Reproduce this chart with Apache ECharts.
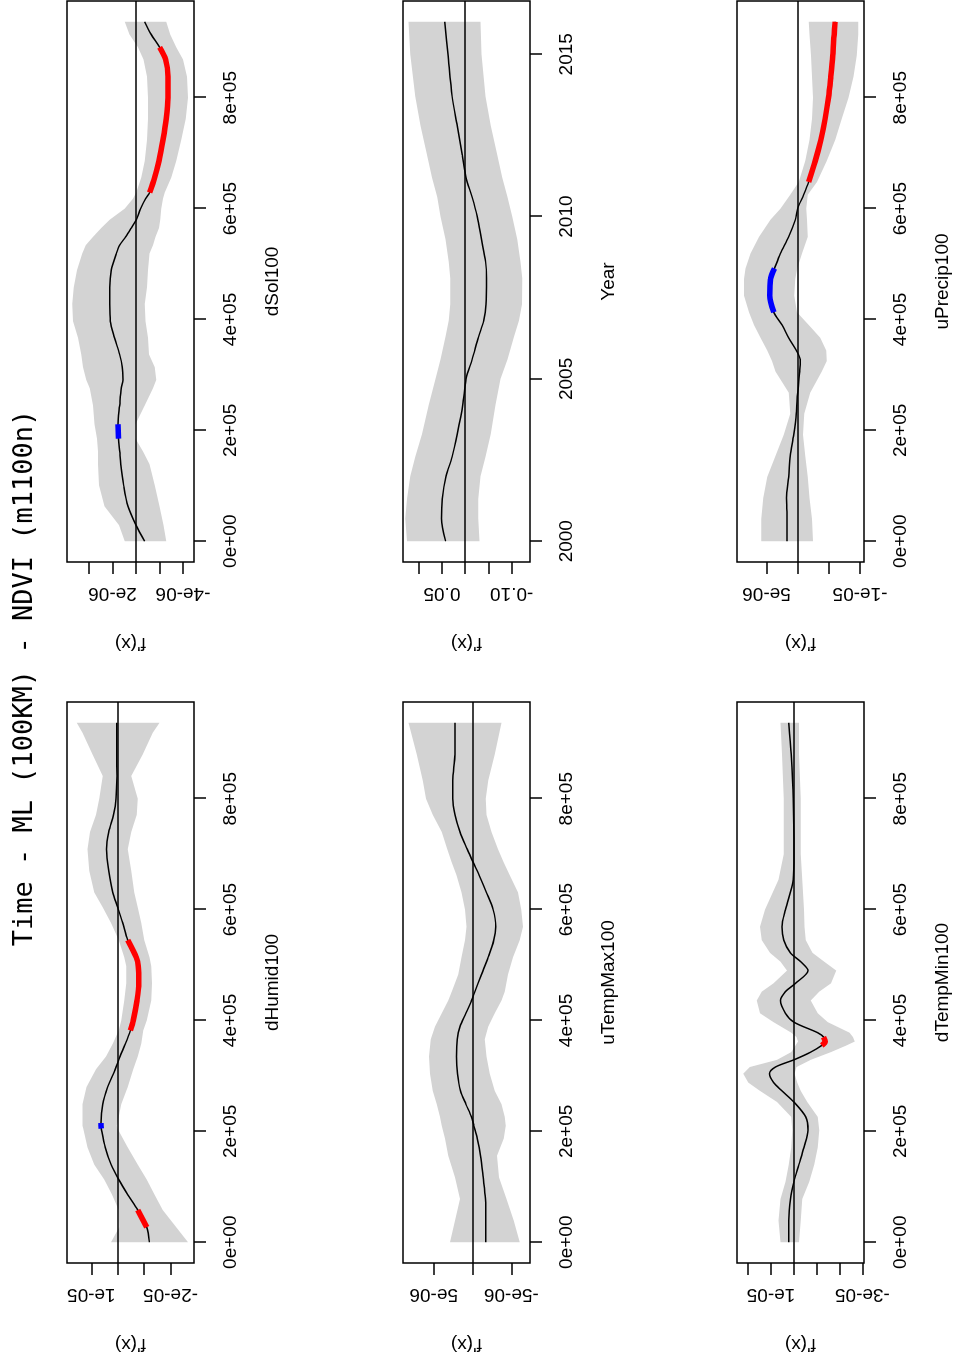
<!DOCTYPE html>
<html>
<head>
<meta charset="utf-8">
<title>Time - ML (100KM) - NDVI (m1100n)</title>
<script src="https://cdn.jsdelivr.net/npm/echarts@6.0.0/dist/echarts.min.js"></script>
<style>
  html, body { margin: 0; padding: 0; width: 956px; height: 1366px; overflow: hidden; background: #fff; }
  /* the figure is drawn landscape and turned a quarter turn, as in the picture */
  #chart { position: absolute; left: 0; top: 0; width: 1366px; height: 956px;
           transform-origin: 0 0; transform: translateY(1366px) rotate(-90deg); }
</style>
</head>
<body>
<div id="chart"></div>
<script>
// ---- data ----
var mainTitle = 'Time - ML (100KM) - NDVI (m1100n)';

var varTicks = [0, 200000, 400000, 600000, 800000];
var yearTicks = [2000, 2005, 2010, 2015];

// dHumid100, f'(x) in 1e-5
var dHumidX = [0, 27000, 58000, 86000, 113000, 140000, 171000, 205000, 210000, 215000,
  249000, 280000, 312000, 335000, 358000, 382000, 400000, 436000, 467000, 498000,
  514000, 545000, 576000, 604000, 631000, 670000, 709000, 740000, 771000, 800000,
  841000, 880000, 919000, 937000];
var dHumidFd = [-1.20, -1.10, -0.76, -0.38, -0.04, 0.25, 0.47, 0.62, 0.63, 0.63,
  0.57, 0.38, 0.09, -0.09, -0.29, -0.48, -0.59, -0.73, -0.80, -0.78,
  -0.70, -0.38, -0.19, 0, 0.19, 0.34, 0.42, 0.34, 0.16, 0.06,
  0.03, 0.04, 0.04, 0.04];
var dHumidUp = [0.25, -0.06, -0.04, 0.22, 0.51, 0.89, 1.14, 1.30, 1.33, 1.33,
  1.33, 1.18, 0.82, 0.44, 0.19, -0.04, -0.13, -0.25, -0.32, -0.32,
  -0.25, -0.04, 0.25, 0.57, 0.89, 1.08, 1.14, 1.05, 0.82, 0.70,
  0.57, 0.95, 1.33, 1.55];
var dHumidLo = [-2.66, -2.22, -1.71, -1.39, -1.10, -0.76, -0.38, 0.01, 0.04, 0.01,
  -0.13, -0.38, -0.59, -0.76, -0.89, -0.97, -1.10, -1.27, -1.30, -1.27,
  -1.20, -1.01, -0.89, -0.76, -0.63, -0.51, -0.38, -0.51, -0.72, -0.76,
  -0.51, -0.95, -1.33, -1.58];
var dHumidRed = [[27000, 58000], [382000, 545000]];
var dHumidBlue = [[205000, 215000]];

// dSol100, f'(x) in 1e-6
var dSolX = [0, 29000, 63000, 101000, 139000, 162000, 185000, 211000, 245000, 276000,
  291000, 314000, 337000, 367000, 397000, 428000, 458000, 489000, 519000, 534000,
  549000, 565000, 580000, 600000, 618000, 629000, 656000, 686000, 724000, 762000,
  800000, 838000, 869000, 891000, 914000, 937000];
var dSolFd = [-0.74, 0, 0.68, 1.05, 1.30, 1.39, 1.48, 1.53, 1.39, 1.25,
  1.11, 1.16, 1.39, 1.82, 2.18, 2.24, 2.24, 2.10, 1.67, 1.39,
  0.88, 0.40, -0.03, -0.40, -0.82, -1.16, -1.59, -1.96, -2.30, -2.58,
  -2.72, -2.72, -2.52, -2.01, -1.30, -0.74];
var dSolUp = [0.96, 1.45, 2.67, 3.15, 3.23, 3.23, 3.32, 3.52, 3.66, 3.94,
  4.23, 4.51, 4.65, 4.94, 5.36, 5.42, 5.30, 5.02, 4.57, 4.28,
  3.66, 2.95, 2.24, 0.96, 0.26, -0.03, -0.45, -0.74, -0.94, -1.02,
  -1.02, -0.94, -0.65, -0.17, 0.54, 0.96];
var dSolLo = [-2.58, -2.35, -2.01, -1.59, -1.16, -0.60, 0.03, 0.03, -0.74, -1.45,
  -1.73, -1.59, -1.11, -1.02, -0.82, -0.74, -0.94, -1.02, -1.16, -1.45,
  -1.67, -1.96, -2.07, -2.16, -2.30, -2.44, -3.01, -3.43, -3.86, -4.23,
  -4.43, -4.34, -4.00, -3.43, -2.92, -2.58];
var dSolRed = [[629000, 891000]];
var dSolBlue = [[185000, 211000]];

// uTempMax100, f'(x) in 1e-6
var uTempMaxX = [0, 39000, 78000, 117000, 156000, 187000, 210000, 226000, 249000, 273000,
  304000, 335000, 366000, 389000, 413000, 436000, 452000, 483000, 514000, 545000,
  569000, 600000, 631000, 662000, 685000, 709000, 740000, 771000, 800000, 833000,
  880000, 937000];
var uTempMaxFd = [-1.71, -1.71, -1.67, -1.37, -1.03, -0.60, -0.17, 0.13, 0.85, 1.54,
  1.92, 2.05, 1.97, 1.62, 0.85, 0.13, -0.30, -1.15, -2.01, -2.74,
  -2.99, -2.65, -1.79, -0.85, -0.09, 0.68, 1.62, 2.26, 2.56, 2.56,
  2.26, 2.26];
var uTempMaxUp = [2.91, 2.26, 1.62, 2.26, 3.12, 3.55, 3.97, 4.19, 4.62, 5.13,
  5.47, 5.60, 5.38, 4.83, 3.97, 3.12, 2.69, 1.84, 1.41, 0.98,
  0.77, 0.98, 1.41, 2.05, 2.69, 3.25, 3.97, 5.13, 5.98, 6.41,
  7.18, 8.25];
var uTempMaxLo = [-6.07, -5.30, -4.36, -3.42, -3.16, -4.02, -4.27, -4.15, -3.72, -2.86,
  -2.22, -1.79, -1.58, -2.01, -2.86, -3.72, -4.15, -4.57, -5.21, -6.07,
  -6.50, -6.28, -5.85, -4.79, -4.02, -3.29, -2.44, -1.79, -1.71, -2.01,
  -2.86, -3.72];

// Year, f'(x) as is
var yearX = [2000, 2000.7, 2001.3, 2002.0, 2002.6, 2003.3, 2004.2, 2005.0, 2005.6, 2006.3,
  2006.8, 2007.3, 2008.1, 2008.6, 2009.3, 2010.0, 2010.6, 2011.2, 2011.9, 2012.8,
  2013.7, 2015.0, 2016.0];
var yearFd = [0.042, 0.051, 0.049, 0.041, 0.028, 0.017, 0.005, -0.002, -0.015, -0.029,
  -0.040, -0.045, -0.046, -0.044, -0.035, -0.026, -0.015, -0.002, 0.006, 0.017,
  0.028, 0.037, 0.044];
var yearUp = [0.125, 0.129, 0.125, 0.118, 0.107, 0.093, 0.078, 0.064, 0.053, 0.042,
  0.035, 0.032, 0.032, 0.035, 0.042, 0.053, 0.060, 0.071, 0.082, 0.096,
  0.107, 0.118, 0.122];
var yearLo = [-0.031, -0.028, -0.028, -0.033, -0.044, -0.055, -0.065, -0.076, -0.091, -0.105,
  -0.116, -0.122, -0.123, -0.119, -0.112, -0.101, -0.091, -0.080, -0.069, -0.055,
  -0.044, -0.035, -0.033];

// dTempMin100, f'(x) in 1e-5
var dTempMinX = [0, 39000, 78000, 109000, 140000, 171000, 202000, 226000, 253000, 273000,
  288000, 304000, 316000, 329000, 343000, 355000, 362000, 370000, 378000, 397000,
  413000, 436000, 452000, 467000, 490000, 506000, 522000, 545000, 569000, 600000,
  654000, 700000, 800000, 880000, 937000];
var dTempMinFd = [0.22, 0.22, 0.15, 0, -0.22, -0.44, -0.62, -0.52, 0, 0.52,
  0.89, 1.07, 0.81, 0, -0.74, -1.22, -1.37, -1.30, -1.04, 0,
  0.37, 0.59, 0.37, -0.07, -0.62, -0.30, 0.15, 0.44, 0.52, 0.37,
  0.03, 0, 0.03, 0.12, 0.22];
var dTempMinUp = [0.59, 0.67, 0.59, 0.37, 0.22, 0.12, 0.07, 0.12, 0.74, 1.48,
  2.00, 2.22, 1.93, 0.74, 0.12, -0.07, -0.18, -0.12, 0.12, 0.89,
  1.48, 1.63, 1.41, 0.89, 0.30, 0.59, 1.04, 1.41, 1.48, 1.26,
  0.67, 0.44, 0.44, 0.52, 0.59];
var dTempMinLo = [-0.22, -0.30, -0.37, -0.67, -0.89, -1.04, -1.11, -1.04, -0.59, -0.30,
  -0.15, -0.03, -0.12, -0.74, -1.63, -2.30, -2.67, -2.59, -2.44, -1.48,
  -1.04, -0.74, -1.11, -1.63, -1.85, -1.33, -0.81, -0.52, -0.47, -0.44,
  -0.37, -0.30, -0.30, -0.22, -0.22];
var dTempMinRed = [[355000, 370000]];

// uPrecip100, f'(x) in 1e-6
var uPrecipX = [0, 40000, 78000, 116000, 154000, 192000, 230000, 268000, 306000, 325000,
  344000, 367000, 390000, 413000, 443000, 473000, 492000, 519000, 549000, 580000,
  600000, 625000, 648000, 686000, 724000, 762000, 800000, 838000, 876000, 914000,
  937000];
var uPrecipFd = [1.70, 1.70, 1.81, 1.44, 1.17, 0.64, 0.21, 0, -0.32, -0.43,
  0.21, 1.44, 2.50, 3.83, 4.47, 4.36, 3.72, 2.77, 1.44, 0.37,
  0, -0.96, -1.76, -2.82, -3.72, -4.41, -4.95, -5.32, -5.64, -5.85,
  -6.01];
var uPrecipUp = [5.85, 5.85, 5.53, 4.89, 3.56, 2.23, 1.17, 1.44, 3.56, 4.10,
  4.89, 5.96, 7.02, 7.82, 8.62, 8.62, 8.35, 7.55, 6.22, 4.36,
  2.77, 1.17, -0.16, -1.22, -1.91, -2.29, -2.45, -2.29, -2.13, -1.91,
  -1.76];
var uPrecipLo = [-2.45, -2.29, -1.91, -1.60, -1.22, -0.85, -1.06, -2.02, -3.88, -4.68,
  -4.57, -3.62, -1.76, 0.10, 0.53, 0.37, 0.05, -0.69, -1.60, -1.49,
  -1.38, -1.60, -3.09, -4.68, -6.01, -7.07, -8.14, -8.94, -9.47, -9.73,
  -9.73];
var uPrecipRed = [[648000, 937000]];
var uPrecipBlue = [[413000, 492000]];

// ---- layout ----
var colLeft = [103, 804];
var colWidth = 561;
var rowTop = [67, 403, 737];
var rowHeight = 127;
var labelFont = "'Liberation Sans', Arial, sans-serif";
var labelSize = 19;

function sciLabel(v) {
  return v.toExponential(0).replace(/e([+-])(\d)$/, 'e$10$2');
}
function scale(arr, unit) {
  return arr.map(function (v) { return v * unit; });
}

var varRange = [-37480, 974480];
var yearRange = [1999.36, 2016.64];

var panels = [
  { row: 0, col: 0, name: 'dHumid100', x: dHumidX, unit: 1e-5, fd: dHumidFd, up: dHumidUp, lo: dHumidLo,
    red: dHumidRed, blue: dHumidBlue, yRange: [-2.89e-5, 1.92e-5],
    yTicks: [1e-5, 0, -1e-5, -2e-5], yLabels: [1e-5, -2e-5] },
  { row: 0, col: 1, name: 'dSol100', x: dSolX, unit: 1e-6, fd: dSolFd, up: dSolUp, lo: dSolLo,
    red: dSolRed, blue: dSolBlue, yRange: [-4.94e-6, 5.87e-6],
    yTicks: [4e-6, 2e-6, 0, -2e-6, -4e-6], yLabels: [2e-6, -4e-6] },
  { row: 1, col: 0, name: 'uTempMax100', x: uTempMaxX, unit: 1e-6, fd: uTempMaxFd, up: uTempMaxUp, lo: uTempMaxLo,
    red: [], blue: [], yRange: [-7.4e-6, 8.95e-6],
    yTicks: [5e-6, 0, -5e-6], yLabels: [5e-6, -5e-6] },
  { row: 1, col: 1, name: 'Year', x: yearX, unit: 1, fd: yearFd, up: yearUp, lo: yearLo,
    red: [], blue: [], yRange: [-0.1394, 0.1336], isYear: true,
    yTicks: [0.10, 0.05, 0, -0.05, -0.10], yLabels: [0.05, -0.10] },
  { row: 2, col: 0, name: 'dTempMin100', x: dTempMinX, unit: 1e-5, fd: dTempMinFd, up: dTempMinUp, lo: dTempMinLo,
    red: dTempMinRed, blue: [], yRange: [-3.07e-5, 2.49e-5],
    yTicks: [2e-5, 1e-5, 0, -1e-5, -2e-5, -3e-5], yLabels: [1e-5, -3e-5] },
  { row: 2, col: 1, name: 'uPrecip100', x: uPrecipX, unit: 1e-6, fd: uPrecipFd, up: uPrecipUp, lo: uPrecipLo,
    red: uPrecipRed, blue: uPrecipBlue, yRange: [-10.64e-6, 9.73e-6],
    yTicks: [5e-6, 0, -5e-6, -1e-5], yLabels: [5e-6, -1e-5] }
];

var chart = echarts.init(document.getElementById('chart'));
var option = {
  animation: false,
  backgroundColor: '#fff',
  title: {
    text: mainTitle, left: 688, top: 11, padding: 0, textAlign: 'center',
    textStyle: { fontFamily: "'DejaVu Sans Mono', monospace", fontSize: 27, fontWeight: 'normal', color: '#000' }
  },
  grid: [], xAxis: [], yAxis: [], series: []
};

var tickStyle = { color: '#000', width: 1.5 };

panels.forEach(function (p, gi) {
  var fd = scale(p.fd, p.unit), up = scale(p.up, p.unit), lo = scale(p.lo, p.unit);
  var xt = p.isYear ? yearTicks : varTicks;

  option.grid.push({
    left: colLeft[p.col], top: rowTop[p.row], width: colWidth, height: rowHeight,
    show: true, borderColor: '#000', borderWidth: 1.5, backgroundColor: 'transparent'
  });
  option.xAxis.push({
    gridIndex: gi, type: 'value', position: 'bottom',
    min: p.isYear ? yearRange[0] : varRange[0], max: p.isYear ? yearRange[1] : varRange[1],
    axisLine: { show: false, onZero: false }, splitLine: { show: false },
    axisTick: { show: true, inside: false, length: 12, lineStyle: tickStyle, customValues: xt },
    axisLabel: {
      customValues: xt, margin: 27, color: '#000', fontFamily: labelFont, fontSize: labelSize,
      formatter: function (v) { return p.isYear ? String(v) : sciLabel(v); }
    },
    name: p.name, nameLocation: 'middle', nameGap: 69,
    nameTextStyle: { color: '#000', fontFamily: labelFont, fontSize: labelSize }
  });
  option.yAxis.push({
    gridIndex: gi, type: 'value', position: 'left', min: p.yRange[0], max: p.yRange[1],
    axisLine: { show: false, onZero: false }, splitLine: { show: false },
    axisTick: { show: true, inside: false, length: 12, lineStyle: tickStyle, customValues: p.yTicks },
    axisLabel: {
      customValues: p.yLabels, rotate: 90, margin: 22, color: '#000', fontFamily: labelFont, fontSize: labelSize,
      formatter: function (v) { return p.isYear ? v.toFixed(2) : sciLabel(v); }
    },
    name: "f'(x)", nameLocation: 'middle', nameRotate: 90, nameGap: 72,
    nameTextStyle: { color: '#000', fontFamily: labelFont, fontSize: labelSize }
  });

  // confidence band
  option.series.push({
    type: 'custom', xAxisIndex: gi, yAxisIndex: gi, silent: true, z: 1,
    data: p.x.map(function (x, i) { return [x, fd[i]]; }),
    renderItem: function (params, api) {
      if (params.dataIndex !== 0) return null;
      var pts = [], i;
      for (i = 0; i < p.x.length; i++) pts.push(api.coord([p.x[i], up[i]]));
      for (i = p.x.length - 1; i >= 0; i--) pts.push(api.coord([p.x[i], lo[i]]));
      return { type: 'polygon', shape: { points: pts }, style: { fill: '#d3d3d3', stroke: null } };
    }
  });
  // derivative + zero line
  option.series.push({
    type: 'line', xAxisIndex: gi, yAxisIndex: gi, z: 2, silent: true,
    data: p.x.map(function (x, i) { return [x, fd[i]]; }),
    symbol: 'none', smooth: 0.3,
    lineStyle: { color: '#000', width: 1.5 },
    markLine: {
      silent: true, symbol: 'none', label: { show: false },
      lineStyle: { color: '#000', width: 1.5, type: 'solid' },
      data: [{ yAxis: 0 }]
    }
  });
  // significant stretches
  [[p.red, '#ff0000'], [p.blue, '#0000ff']].forEach(function (pair) {
    pair[0].forEach(function (r) {
      var seg = [];
      p.x.forEach(function (x, i) { if (x >= r[0] && x <= r[1]) seg.push([x, fd[i]]); });
      option.series.push({
        type: 'line', xAxisIndex: gi, yAxisIndex: gi, z: 3, silent: true,
        data: seg, symbol: 'none', smooth: 0.3,
        lineStyle: { color: pair[1], width: 5.5 }
      });
    });
  });
});

chart.setOption(option);
</script>
</body>
</html>
